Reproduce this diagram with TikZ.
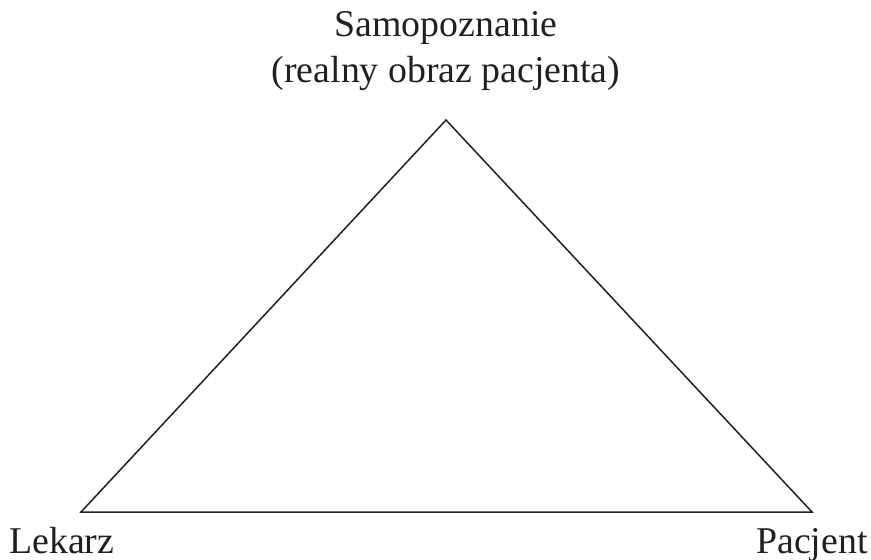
\documentclass[tikz,border=0pt]{standalone}
\usepackage{fontspec}
\setmainfont{Liberation Serif}
\usepackage{tikz}
\usetikzlibrary{positioning}

\definecolor{ink}{RGB}{35,31,32}

\begin{document}
\begin{tikzpicture}[x=0.5pt, y=-0.5pt, every node/.style={inner sep=0pt, text=ink},
    label/.style={font=\fontsize{18.9}{23}\selectfont}]
    \useasboundingbox (0,0) rectangle (871,559);
    \coordinate (top)   at (446,120);
    \coordinate (left)  at (81,512);
    \coordinate (right) at (812,512);
    \node[label, align=center, anchor=south] (self) at (446,91) {Samopoznanie\\(realny obraz pacjenta)};
    \node[label, anchor=base west] (doctor) at (9,553) {Lekarz};
    \node[label, anchor=base east] (patient) at (868,553) {Pacjent};
    \draw[ink, line width=0.75pt]
        (top) -- (right) -- (left) -- cycle;

\end{tikzpicture}
\end{document}
